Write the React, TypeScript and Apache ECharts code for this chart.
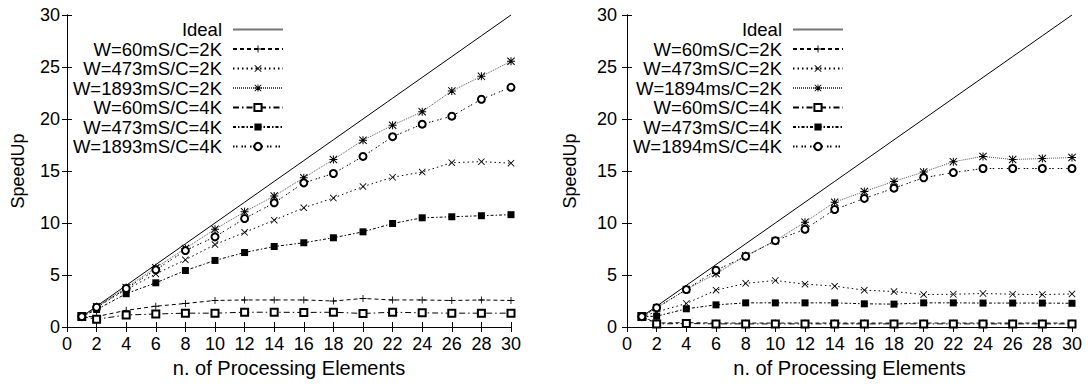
import React, { useEffect, useRef } from "react";
import * as echarts from "echarts";

// Processing element counts (x values)
const peCounts = [1, 2, 4, 6, 8, 10, 12, 14, 16, 18, 20, 22, 24, 26, 28, 30];
const idealSpeedup = [1, 2, 4, 6, 8, 10, 12, 14, 16, 18, 20, 22, 24, 26, 28, 30];

const leftNames = ["Ideal", "W=60mS/C=2K", "W=473mS/C=2K", "W=1893mS/C=2K", "W=60mS/C=4K", "W=473mS/C=4K", "W=1893mS/C=4K"];
const rightNames = ["Ideal", "W=60mS/C=2K", "W=473mS/C=2K", "W=1894ms/C=2K", "W=60mS/C=4K", "W=473mS/C=4K", "W=1894mS/C=4K"];

// Left chart
const left60_2K = [1, 1.0, 1.6, 2.0, 2.26, 2.55, 2.6, 2.6, 2.6, 2.5, 2.74, 2.6, 2.6, 2.55, 2.6, 2.55];
const left473_2K = [1, 1.9, 3.6, 5.1, 6.46, 7.93, 9.1, 10.27, 11.46, 12.4, 13.5, 14.4, 14.9, 15.8, 15.9, 15.75];
const left1893_2K = [1, 1.95, 3.8, 5.7, 7.55, 9.4, 11.07, 12.6, 14.35, 16.1, 17.96, 19.4, 20.7, 22.7, 24.1, 25.55];
const left60_4K = [1, 0.75, 1.15, 1.25, 1.33, 1.33, 1.42, 1.42, 1.4, 1.42, 1.3, 1.42, 1.36, 1.33, 1.33, 1.33];
const left473_4K = [1, 1.68, 3.2, 4.25, 5.43, 6.4, 7.16, 7.74, 8.1, 8.58, 9.15, 9.95, 10.5, 10.6, 10.7, 10.8];
const left1893_4K = [1, 1.9, 3.7, 5.5, 7.35, 8.67, 10.43, 11.94, 13.86, 14.76, 16.4, 18.3, 19.5, 20.27, 21.9, 23.05];

// Right chart
const right60_2K = [1, 0.38, 0.42, 0.38, 0.38, 0.38, 0.38, 0.38, 0.38, 0.38, 0.38, 0.38, 0.38, 0.38, 0.38, 0.38];
const right473_2K = [1, 1.45, 2.26, 3.54, 4.2, 4.47, 4.12, 3.93, 3.54, 3.41, 3.12, 3.15, 3.22, 3.15, 3.12, 3.18];
const right1894_2K = [1, 1.84, 3.6, 5.14, 6.84, 8.3, 10.08, 12.0, 13.03, 14.0, 14.9, 15.9, 16.4, 16.1, 16.2, 16.3];
const right60_4K = [1, 0.3, 0.33, 0.3, 0.3, 0.3, 0.3, 0.3, 0.3, 0.3, 0.3, 0.3, 0.3, 0.3, 0.3, 0.3];
const right473_4K = [1, 1.04, 1.75, 2.13, 2.32, 2.32, 2.32, 2.32, 2.23, 2.2, 2.32, 2.32, 2.3, 2.3, 2.3, 2.28];
const right1894_4K = [1, 1.85, 3.6, 5.46, 6.8, 8.3, 9.4, 11.3, 12.36, 13.35, 14.35, 14.85, 15.24, 15.24, 15.24, 15.24];

const FONT = '"Liberation Sans", Arial, Helvetica, sans-serif';

const PLUS = "path://M3.5,0H4.5V3.5H8V4.5H4.5V8H3.5V4.5H0V3.5H3.5Z";
const CROSS = "path://M0.7,0L4,3.3L7.3,0L8,0.7L4.7,4L8,7.3L7.3,8L4,4.7L0.7,8L0,7.3L3.3,4L0,0.7Z";
const STAR = "path://M3.5,0H4.5V3.5H8V4.5H4.5V8H3.5V4.5H0V3.5H3.5ZM0.7,0L4,3.3L7.3,0L8,0.7L4.7,4L8,7.3L7.3,8L4,4.7L0.7,8L0,7.3L3.3,4L0,0.7Z";

type Style = { symbol: string; size: number; dash: any; color: string; border: number };
const styles: Style[] = [
  { symbol: "none", size: 0, dash: "solid", color: "#000", border: 0 },
  { symbol: PLUS, size: 7, dash: [4, 3], color: "#000", border: 0 },
  { symbol: CROSS, size: 7, dash: [1.5, 3], color: "#000", border: 0 },
  { symbol: STAR, size: 8, dash: [1, 1], color: "#555", border: 0 },
  { symbol: "emptyRect", size: 7, dash: [6, 3, 1.5, 3], color: "#000", border: 1 },
  { symbol: "rect", size: 7, dash: [3, 2, 1.5, 2], color: "#000", border: 0 },
  { symbol: "emptyCircle", size: 7, dash: [1.5, 1.5, 1.5, 4], color: "#000", border: 1 },
];

function makeSeries(names: string[], values: number[][], idx: number) {
  return names.map((name, i) => {
    const st = styles[i];
    return {
      name,
      type: "line",
      xAxisIndex: idx * 2,
      yAxisIndex: idx * 2,
      data: peCounts.map((x, k) => [x, values[i][k]]),
      symbol: st.symbol,
      symbolSize: st.size,
      showSymbol: st.symbol !== "none",
      lineStyle: { color: st.color, width: 1, type: st.dash },
      itemStyle: { color: "#000", borderColor: "#000", borderWidth: st.border, opacity: i === 0 ? 0 : 1 },
      emphasis: { disabled: true },
      clip: false,
    };
  });
}

function axesFor(gridIndex: number, labelMargin: number, nameGapY: number) {
  const axisLine = { show: true, lineStyle: { color: "#000", width: 1 } };
  const tickStyle = { show: true, inside: true, length: 5, lineStyle: { color: "#000", width: 1 } };
  const xs = [
    {
      type: "value", gridIndex, min: 0, max: 30, interval: 2, position: "bottom",
      axisLine, axisTick: tickStyle, splitLine: { show: false },
      axisLabel: { color: "#000", fontSize: 18, fontFamily: FONT, margin: 8 },
      name: "n. of Processing Elements", nameLocation: "middle", nameGap: 31,
      nameTextStyle: { color: "#000", fontSize: 20, fontFamily: FONT },
    },
    {
      type: "value", gridIndex, min: 0, max: 30, interval: 2, position: "top",
      axisLine, axisTick: tickStyle, splitLine: { show: false }, axisLabel: { show: false },
    },
  ];
  const ys = [
    {
      type: "value", gridIndex, min: 0, max: 30, interval: 5, position: "left",
      axisLine, axisTick: tickStyle, splitLine: { show: false },
      axisLabel: { color: "#000", fontSize: 18, fontFamily: FONT, margin: labelMargin },
      name: "SpeedUp", nameLocation: "middle", nameGap: nameGapY,
      nameTextStyle: { color: "#000", fontSize: 18, fontFamily: FONT },
    },
    {
      type: "value", gridIndex, min: 0, max: 30, interval: 5, position: "right",
      axisLine, axisTick: tickStyle, splitLine: { show: false }, axisLabel: { show: false },
    },
  ];
  return { xs, ys };
}

function legendFor(names: string[], right: number) {
  return {
    orient: "vertical",
    align: "right",
    right,
    top: 20,
    padding: 0,
    itemWidth: 50,
    itemHeight: 9,
    itemGap: 0.5,
    selectedMode: false,
    data: names.map((n, i) =>
      i === 0
        ? { name: n, itemStyle: { opacity: 0 }, lineStyle: { color: "#777", width: 2 } }
        : { name: n }
    ),
    formatter: (n: string) => "{t|" + n + "}",
    textStyle: {
      color: "#000",
      fontSize: 18.5,
      fontFamily: FONT,
      lineHeight: 18,
      rich: {
        t: { color: "#000", fontSize: 18.5, fontFamily: FONT, lineHeight: 18, padding: [0, 6, 0, 0] },
      },
    },
  };
}

export default function App() {
  const ref = useRef<HTMLDivElement>(null);
  useEffect(() => {
    if (!ref.current) return;
    const chart = echarts.init(ref.current, undefined, { renderer: "svg" });
    const a0 = axesFor(0, 7, 40);
    const a1 = axesFor(1, 10, 48);
    const leftValues = [idealSpeedup, left60_2K, left473_2K, left1893_2K, left60_4K, left473_4K, left1893_4K];
    const rightValues = [idealSpeedup, right60_2K, right473_2K, right1894_2K, right60_4K, right473_4K, right1894_4K];
    chart.setOption({
      animation: false,
      backgroundColor: "#fff",
      textStyle: { fontFamily: FONT },
      grid: [
        { left: 67, right: 578, top: 15, bottom: 60 },
        { left: 627, right: 17, top: 15, bottom: 60 },
      ],
      xAxis: [...a0.xs, ...a1.xs],
      yAxis: [...a0.ys, ...a1.ys],
      legend: [legendFor(leftNames, 805), legendFor(rightNames, 245)],
      series: [...makeSeries(leftNames, leftValues, 0), ...makeSeries(rightNames, rightValues, 1)],
    });
    return () => chart.dispose();
  }, []);
  return (
    <div
      ref={ref}
      style={{ position: "absolute", left: 0, top: 0, width: 1089, height: 387 }}
    />
  );
}
